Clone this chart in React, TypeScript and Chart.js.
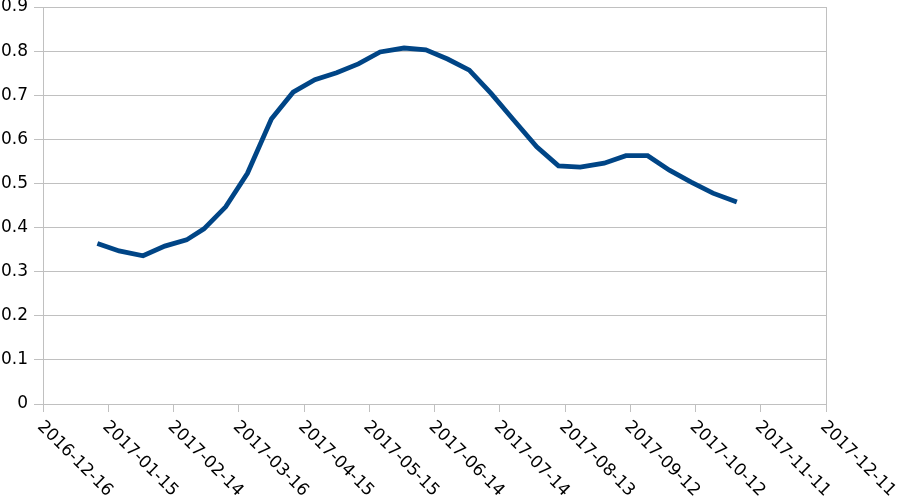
import React, { useEffect, useRef } from "react";
import { Chart, registerables } from "chart.js";

Chart.register(...registerables);

const ORIGIN = Date.UTC(2016, 11, 16);
const DAY = 86400000;

const dates = [
  "2017-01-10", "2017-01-20", "2017-01-31",
  "2017-02-10", "2017-02-20", "2017-02-28",
  "2017-03-10", "2017-03-20", "2017-03-31",
  "2017-04-10", "2017-04-20", "2017-04-30",
  "2017-05-10", "2017-05-20", "2017-05-31",
  "2017-06-10", "2017-06-20", "2017-06-30",
  "2017-07-10", "2017-07-20", "2017-07-31",
  "2017-08-10", "2017-08-20", "2017-08-31",
  "2017-09-10", "2017-09-20", "2017-09-30",
  "2017-10-10", "2017-10-20", "2017-10-31",
];

const values = [
  0.364, 0.347, 0.336,
  0.358, 0.372, 0.397,
  0.447, 0.523, 0.646,
  0.707, 0.735, 0.751,
  0.771, 0.798, 0.807,
  0.803, 0.782, 0.757,
  0.704, 0.646, 0.583,
  0.540, 0.537, 0.546,
  0.563, 0.563, 0.530,
  0.503, 0.478, 0.458,
];

const xTickLabels = [
  "2016-12-16", "2017-01-15", "2017-02-14", "2017-03-16", "2017-04-15",
  "2017-05-15", "2017-06-14", "2017-07-14", "2017-08-13", "2017-09-12",
  "2017-10-12", "2017-11-11", "2017-12-11",
];

const yTickLabels = ["0", "0.1", "0.2", "0.3", "0.4", "0.5", "0.6", "0.7", "0.8", "0.9"];

const toDay = (s: string) => {
  const [y, m, d] = s.split("-").map(Number);
  return Math.round((Date.UTC(y, m - 1, d) - ORIGIN) / DAY);
};

const FONT = "DejaVu Sans";
const GRID = "#c0c0c0";
const FONT_SIZE = 17;

export default function App() {
  const ref = useRef<HTMLCanvasElement | null>(null);

  useEffect(() => {
    if (!ref.current) return;
    const xTickDays = xTickLabels.map(toDay);
    const points = dates.map((d, i) => ({ x: toDay(d), y: values[i] }));

    const labelPlugin = {
      id: "rotatedLabels",
      afterDraw(chart: any) {
        const ctx = chart.ctx;
        const xs = chart.scales.x;
        const area = chart.chartArea;
        ctx.save();
        ctx.strokeStyle = GRID;
        ctx.lineWidth = 1;
        ctx.beginPath();
        ctx.moveTo(Math.round(area.right) + 0.5, area.top);
        ctx.lineTo(Math.round(area.right) + 0.5, area.bottom + 8);
        ctx.stroke();
        ctx.fillStyle = "#000";
        ctx.font = `${FONT_SIZE}px "${FONT}"`;
        ctx.textAlign = "left";
        ctx.textBaseline = "middle";
        xTickDays.forEach((d, i) => {
          const px = xs.getPixelForValue(d);
          ctx.save();
          ctx.translate(px - 3, area.bottom + 20);
          ctx.rotate(Math.PI / 4);
          ctx.fillText(xTickLabels[i], 0, 0);
          ctx.restore();
        });
        ctx.restore();
      },
    };

    const chart = new Chart(ref.current, {
      type: "line",
      data: {
        datasets: [
          {
            data: points,
            borderColor: "#004586",
            backgroundColor: "#004586",
            borderWidth: 4.8,
            pointRadius: 0,
            tension: 0,
            fill: false,
          },
        ],
      },
      options: {
        animation: false,
        responsive: true,
        maintainAspectRatio: false,
        layout: { padding: { top: 7, right: 74, left: 0, bottom: 0 } },
        plugins: {
          legend: { display: false },
          tooltip: { enabled: false },
        },
        scales: {
          x: {
            type: "linear",
            min: 0,
            max: 360,
            afterBuildTicks: (scale: any) => {
              scale.ticks = xTickDays.map((v) => ({ value: v }));
            },
            afterFit: (scale: any) => {
              scale.height = 98;
              scale.paddingLeft = 0;
              scale.paddingRight = 0;
            },
            ticks: { display: false },
            grid: {
              display: true,
              drawOnChartArea: false,
              drawTicks: true,
              tickLength: 8,
              color: GRID,
            },
            border: { display: true, color: GRID },
          },
          y: {
            min: 0,
            max: 0.9,
            afterBuildTicks: (scale: any) => {
              scale.ticks = yTickLabels.map((l) => ({ value: Number(l) }));
            },
            afterFit: (scale: any) => {
              scale.width = 43;
              scale.paddingTop = 0;
              scale.paddingBottom = 0;
            },
            ticks: {
              color: "#000",
              font: { family: FONT, size: FONT_SIZE, lineHeight: 1 },
              padding: 6,
              callback: (_v: any, i: number) => yTickLabels[i],
            },
            grid: {
              color: GRID,
              tickLength: 9,
            },
            border: { display: true, color: GRID },
          },
        },
      },
      plugins: [labelPlugin],
    });
    return () => chart.destroy();
  }, []);

  return (
    <div style={{ position: "fixed", left: 0, top: 0, width: 900, height: 502, background: "#fff" }}>
      <canvas ref={ref} />
    </div>
  );
}
